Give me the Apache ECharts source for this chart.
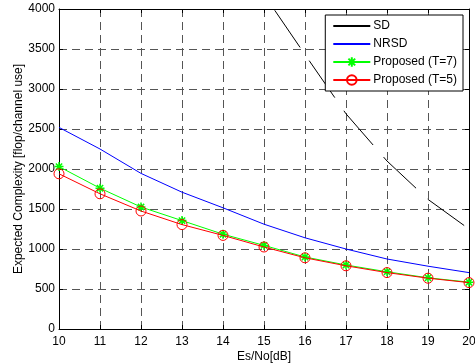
<!DOCTYPE html>
<html><head><meta charset="utf-8">
<script src="https://cdn.jsdelivr.net/npm/echarts@6/dist/echarts.min.js"></script>
<style>html,body{margin:0;padding:0;background:#fff}#c{width:475px;height:364px}</style>
</head><body><div id="c"></div>
<script>
var snr = [10, 11, 12, 13, 14, 15, 16, 17, 18, 19, 20];
var sdX = [15, 16, 17, 18, 19, 20];
var sdVals = [4180, 3430, 2690, 2100, 1620, 1250];
var nrsdVals = [2520, 2250, 1945, 1710, 1515, 1310, 1140, 1000, 875, 785, 705];
var t7Vals = [2030, 1760, 1525, 1355, 1185, 1045, 900, 800, 715, 640, 585];
var t5Vals = [1940, 1690, 1475, 1305, 1170, 1025, 890, 790, 705, 635, 580];
var xTicks = [10, 11, 12, 13, 14, 15, 16, 17, 18, 19, 20];
var yTicks = [0, 500, 1000, 1500, 2000, 2500, 3000, 3500, 4000];

function pairs(xs, ys){ return xs.map(function(x,i){return [x, ys[i]];}); }
var FONT = 'Liberation Sans, Arial, sans-serif';
var chart = echarts.init(document.getElementById('c'));
var gridLine = {show:true, lineStyle:{color:'#555', type:[8,5], width:1}};
var star = 'path://M0,-1L0,1M-1,0L1,0M-0.7,-0.7L0.7,0.7M-0.7,0.7L0.7,-0.7';
chart.setOption({
  animation:false,
  backgroundColor:'#fff',
  textStyle:{fontFamily:FONT},
  grid:{left:59, right:6, top:9, bottom:35, show:false, containLabel:false, outerBoundsMode:'none'},
  legend:{
    orient:'vertical', right:12, top:15,
    backgroundColor:'#fff', borderColor:'#000', borderWidth:1,
    padding:[5,6,5,7], itemWidth:37, itemHeight:12, itemGap:6,
    textStyle:{fontFamily:FONT, fontSize:12, color:'#000', padding:[0,0,0,-2]},
    data:[
      {name:'SD', lineStyle:{type:'solid'}, itemStyle:{opacity:0}},
      {name:'NRSD', itemStyle:{opacity:0}},
      {name:'Proposed (T=7)'},
      {name:'Proposed (T=5)'}
    ]
  },
  xAxis:[{
    type:'value', min:10, max:20, interval:1,
    name:'Es/No[dB]', nameLocation:'middle', nameGap:22, nameMoveOverlap:false,
    nameTextStyle:{fontFamily:FONT, fontSize:12, color:'#000'},
    axisLine:{show:true, onZero:false, lineStyle:{color:'#000', width:1}},
    axisTick:{show:true, inside:true, length:4, lineStyle:{color:'#000'}},
    axisLabel:{fontFamily:FONT, fontSize:12, color:'#000', margin:7,
      formatter:function(v){return xTicks.indexOf(v)>=0?String(v):'';}},
    splitLine:gridLine
  },{
    type:'value', min:10, max:20, interval:1, position:'top',
    axisLine:{show:true, onZero:false, lineStyle:{color:'#000', width:1}},
    axisTick:{show:true, inside:true, length:4, lineStyle:{color:'#000'}},
    axisLabel:{show:false}, splitLine:{show:false}
  }],
  yAxis:[{
    type:'value', min:0, max:4000, interval:500,
    name:'Expected Complexity [flop/channel use]', nameLocation:'middle', nameGap:34, nameMoveOverlap:false,
    nameTextStyle:{fontFamily:FONT, fontSize:12, color:'#000'},
    axisLine:{show:true, onZero:false, lineStyle:{color:'#000', width:1}},
    axisTick:{show:true, inside:true, length:4, lineStyle:{color:'#000'}},
    axisLabel:{fontFamily:FONT, fontSize:12, color:'#000', margin:4,
      formatter:function(v){return yTicks.indexOf(v)>=0?String(v):'';}},
    splitLine:gridLine
  },{
    type:'value', min:0, max:4000, interval:500, position:'right',
    axisLine:{show:true, onZero:false, lineStyle:{color:'#000', width:1}},
    axisTick:{show:true, inside:true, length:4, lineStyle:{color:'#000'}},
    axisLabel:{show:false}, splitLine:{show:false}
  }],
  series:[
    {name:'SD', type:'line', data:pairs(sdX, sdVals), showSymbol:false, symbol:'none',
      color:'#000', lineStyle:{color:'#000', width:1, type:[45,16], dashOffset:42}, clip:true, z:3},
    {name:'NRSD', type:'line', data:pairs(snr, nrsdVals), symbol:'none', showSymbol:false,
      color:'#0000ff', lineStyle:{color:'#0000ff', width:1}, z:3},
    {name:'Proposed (T=7)', type:'line', data:pairs(snr, t7Vals), symbol:star, symbolSize:9, showSymbol:true,
      color:'#00ff00', itemStyle:{color:'#00ff00', borderColor:'#00ff00', borderWidth:1.5},
      lineStyle:{color:'#00ff00', width:1}, z:4},
    {name:'Proposed (T=5)', type:'line', data:pairs(snr, t5Vals), symbol:'circle', symbolSize:10, showSymbol:true,
      color:'rgba(255,0,0,0)', itemStyle:{color:'rgba(255,0,0,0)', borderColor:'#ff0000', borderWidth:1},
      lineStyle:{color:'#ff0000', width:1}, z:5}
  ]
});
</script></body></html>
